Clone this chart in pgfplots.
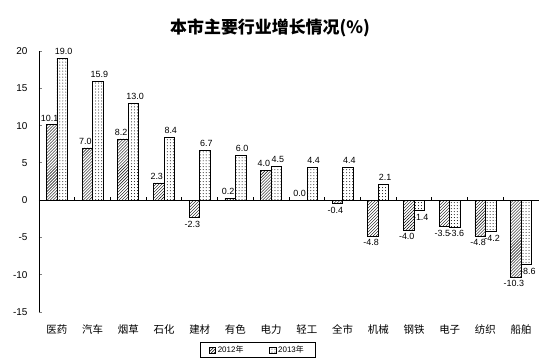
\documentclass[border=0pt]{standalone}
\usepackage{pgfplots}
\pgfplotsset{compat=1.18}
\usepackage{fontspec}
\setmainfont{Liberation Sans}
\newfontfamily\cjk{Noto Sans CJK SC}
\usetikzlibrary{patterns}
\pgfplotstableread{
x a b
0 10.1 19.0
1 7.0 15.9
2 8.2 13.0
3 2.3 8.4
4 -2.3 6.7
5 0.2 6.0
6 4.0 4.5
7 0.0 4.4
8 -0.4 4.4
9 -4.8 2.1
10 -4.0 -1.4
11 -3.5 -3.6
12 -4.8 -4.2
13 -10.3 -8.6
}\datatable
\begin{document}
\begin{tikzpicture}
\useasboundingbox (0,0) rectangle (553bp,364bp);
\node[font=\cjk\bfseries\fontsize{17}{19}\selectfont] at (270bp,336bp) {本市主要行业增长情况(\%)};
\begin{axis}[
  at={(39bp,52bp)}, anchor=south west,
  scale only axis, width=500bp, height=261bp,
  xmin=-0.5, xmax=13.5, ymin=-15, ymax=20,
  ytick={-15,-10,...,20},
  xtick={0,...,13},
  xticklabels={医药,汽车,烟草,石化,建材,有色,电力,轻工,全市,机械,钢铁,电子,纺织,船舶},
  xticklabel style={font=\cjk\fontsize{10.5}{12}\selectfont, yshift=-6bp},
  yticklabel style={font=\fontsize{10}{12}\selectfont, xshift=-8bp},
  /pgf/number format/assume math mode=true,
  axis lines=left,
  axis line style={-, line width=0.8bp},
  x axis line style={draw=none},
  xtick style={draw=none},
  tick align=inside,
  major tick length=3bp,
  ytick style={line width=0.8bp},
  ybar=0pt, bar width=10.5bp,
  nodes near coords={\pgfmathprintnumber[fixed,fixed zerofill,precision=1,assume math mode=true]{\pgfplotspointmeta}},
  nodes near coords style={font=\fontsize{9}{11}\selectfont},
  legend columns=2,
  legend style={at={(0.437,-0.1456)}, anchor=center, draw=black, line width=0.6bp,
    font=\fontsize{8}{9}\selectfont, inner xsep=9bp, inner ysep=1.5bp,
    /tikz/every even column/.append style={column sep=24bp}},
  legend image code/.code={\draw[#1] (0bp,-3bp) rectangle (6bp,3bp);},
  clip=false,
]
\addplot[draw=black, line width=0.7bp, pattern=north east lines, pattern color=black,
  every node near coord/.append style={xshift=-2bp}] table[x=x,y=a]{\datatable};
\addplot[draw=black, line width=0.7bp, pattern=dots, pattern color=black,
  every node near coord/.append style={xshift=1.5bp}] table[x=x,y=b]{\datatable};
\legend{2012{\cjk 年},2013{\cjk 年}}
\draw[line width=0.8bp] (axis cs:-0.5,0) -- (axis cs:13.5,0);
\pgfplotsinvokeforeach{0,...,12}{\draw[line width=0.8bp] (axis cs:#1.5,0) -- ([yshift=3bp]axis cs:#1.5,0);}
\end{axis}
\end{tikzpicture}
\end{document}
